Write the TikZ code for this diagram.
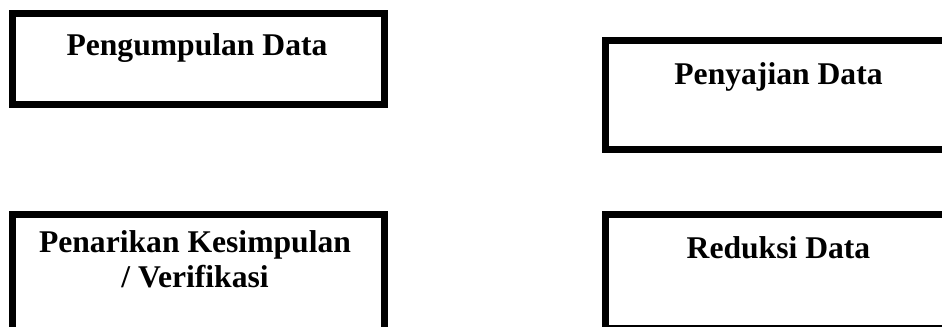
\documentclass[tikz,border=0pt]{standalone}
\usepackage{fontspec}
\setmainfont{Liberation Serif}
\usetikzlibrary{positioning}

\tikzset{
  databox/.style={draw=black, line width=4pt, rectangle, outer sep=0pt,
    anchor=north west, minimum width=#1, minimum height=2cm},
  datatext/.style={font=\bfseries\fontsize{18}{19.4}\selectfont, align=center,
    anchor=base, inner sep=0pt}
}

\begin{document}
\begin{tikzpicture}[x=0.02cm, y=-0.02cm]

    %\draw (0,0) grid (942,326);
    \clip (0,0) rectangle (942,326);
    \useasboundingbox (0,0) rectangle (942,326);

    % boxes
    \node[databox=7.44cm, minimum height=1.82cm] (kumpul) at (12.5,13.5) {};
    \node[databox=6.92cm, minimum height=2.18cm] (saji) at (605.5,40.5) {};
    \node[databox=7.44cm, minimum height=2.44cm] (tarik) at (12.5,214.5) {};
    \node[databox=6.92cm, minimum height=2.29cm] (reduksi) at (605.5,214.5) {};

    % labels
    \node[datatext] (kumpulT) at (197,55) {Pengumpulan Data};
    \node[datatext] (sajiT) at (778.5,84) {Penyajian Data};
    \node[datatext] (tarikT) at (195,287) {Penarikan Kesimpulan\\/ Verifikasi};
    \node[datatext] (reduksiT) at (778.5,258) {Reduksi Data};

\end{tikzpicture}
\end{document}
